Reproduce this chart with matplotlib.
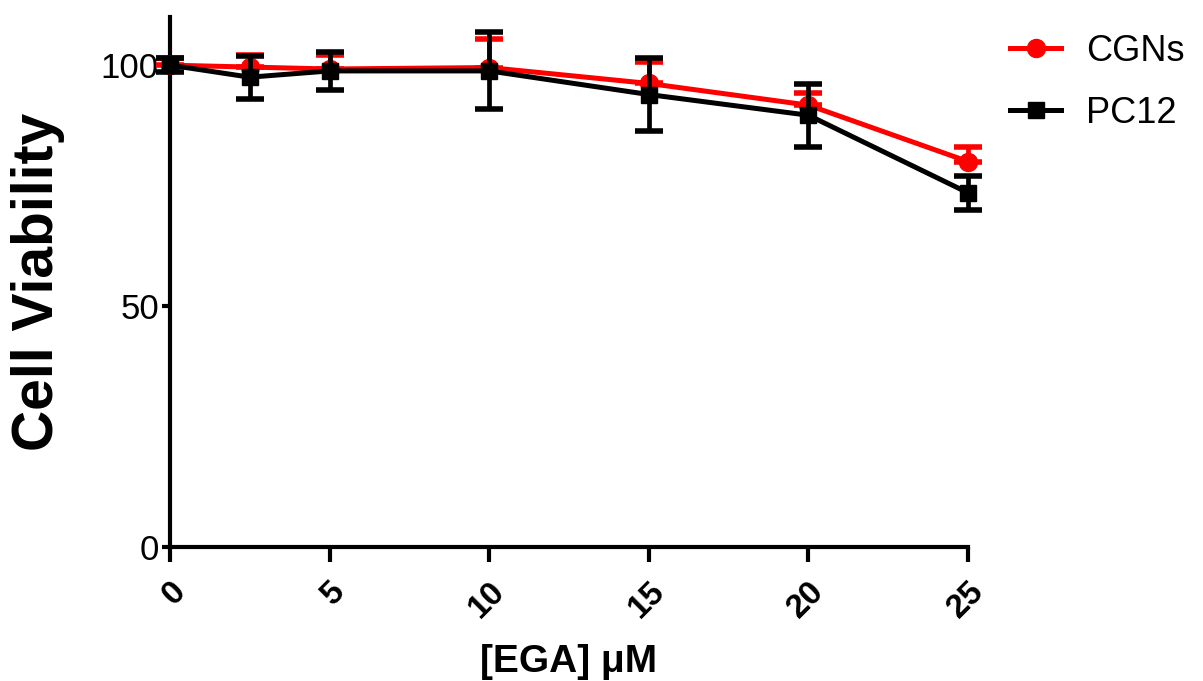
import numpy as np
import matplotlib
matplotlib.use("Agg")
import matplotlib.pyplot as plt

plt.rcParams['font.family'] = ['Liberation Sans', 'DejaVu Sans']

# concentrations of EGA (uM)
conc = [0, 2.5, 5, 10, 15, 20, 25]

# cell viability (% of control) and error
cgns_mean = [100, 99.6, 99.2, 99.5, 96.2, 91.7, 80.0]
cgns_err = [1.5, 2.5, 3.0, 6.0, 4.5, 2.5, 3.0]
pc12_mean = [100, 97.5, 98.8, 98.8, 93.9, 89.6, 73.5]
pc12_err = [1.5, 4.5, 4.0, 8.0, 7.5, 6.5, 3.5]

xticks = [0, 5, 10, 15, 20, 25]
yticks = [0, 50, 100]

fig = plt.figure(figsize=(12.03, 6.81), dpi=100)
ax = fig.add_axes([0.1413, 0.1968, 0.6634, 0.7783])

# CGNs error bars only shown above the point
ax.errorbar(conc, cgns_mean, yerr=[np.zeros(len(cgns_err)), cgns_err],
            color='#ff0000', marker='o', markersize=13, linewidth=3.6,
            elinewidth=3.4, capsize=10, capthick=4, label='CGNs',
            clip_on=False, zorder=3)
ax.errorbar(conc, pc12_mean, yerr=pc12_err, color='black', marker='s',
            markersize=12, linewidth=3.6, elinewidth=3.4, capsize=10,
            capthick=4, label='PC12', clip_on=False, zorder=4)

ax.set_xlim(0, 25)
ax.set_ylim(0, 110)
ax.set_xticks(xticks)
ax.set_yticks(yticks)

for s in ['top', 'right']:
    ax.spines[s].set_visible(False)
for s in ['left', 'bottom']:
    ax.spines[s].set_linewidth(3)

ax.tick_params(axis='x', direction='out', length=11, width=3, pad=10)
ax.tick_params(axis='y', direction='out', length=6, width=3, pad=2, labelsize=25)
for lab in ax.get_xticklabels():
    lab.set_rotation(45)
    lab.set_ha('right')
    lab.set_va('top')
    lab.set_rotation_mode('anchor')
    lab.set_fontsize(24)
    lab.set_fontweight('bold')

ax.set_ylabel('Cell Viability', fontsize=41, fontweight='bold', labelpad=26)
ax.set_xlabel('[EGA] μM', fontsize=28, fontweight='bold', labelpad=14)

handles, labels = ax.get_legend_handles_labels()
handles = [h[0] for h in handles]
ax.legend(handles, labels, loc='upper left', bbox_to_anchor=(1.035, 0.995),
          frameon=False, fontsize=26, handlelength=1.4, handletextpad=0.7,
          labelspacing=0.75, borderaxespad=0)

fig.savefig('out.png', dpi=100)
